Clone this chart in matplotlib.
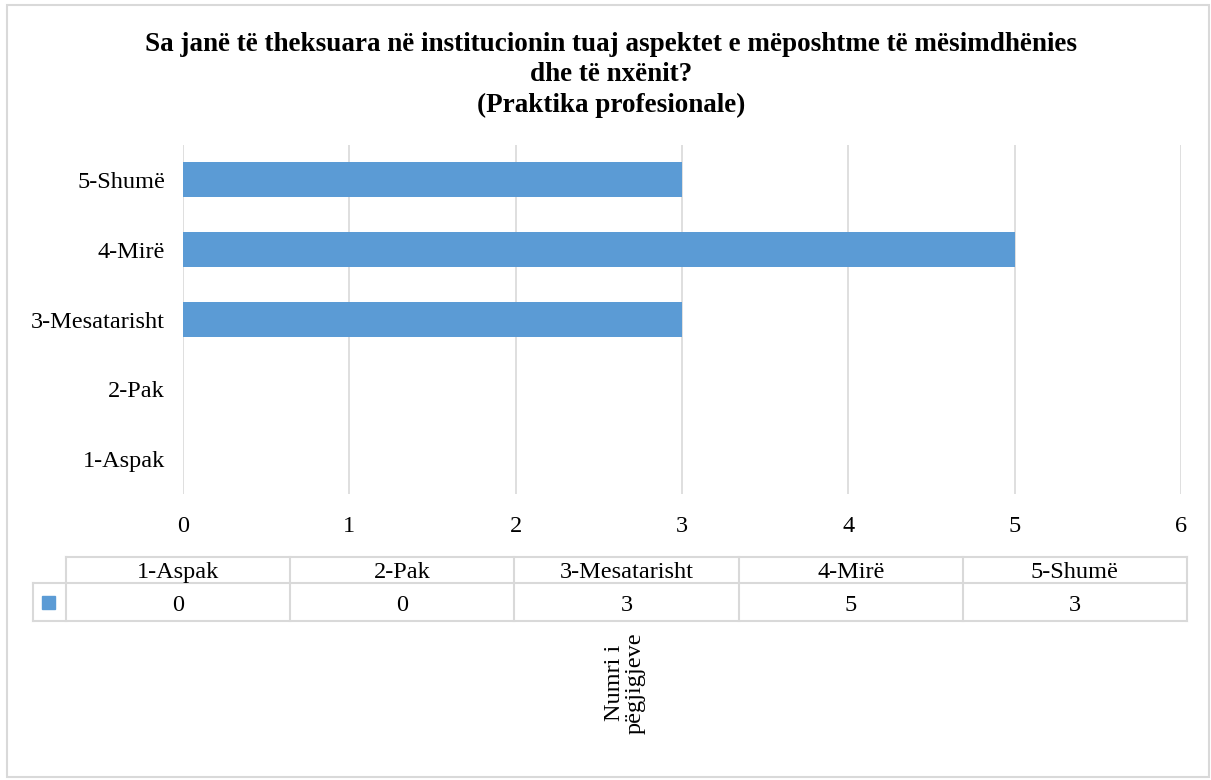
import matplotlib
matplotlib.use('Agg')
import matplotlib.pyplot as plt
from matplotlib.patches import Rectangle
from matplotlib.lines import Line2D

categories = ['1-Aspak', '2-Pak', '3-Mesatarisht', '4-Mirë', '5-Shumë']
values = [0, 0, 3, 5, 3]
x_ticks = [0, 1, 2, 3, 4, 5, 6]
title = ('Sa janë të theksuara në institucionin tuaj aspektet e mëposhtme të mësimdhënies\n'
         'dhe të nxënit?\n(Praktika profesionale)')
axis_title = 'Numri i\npëgjigjeve'

bar_color = '#5B9BD5'
grid_color = '#D9D9D9'
W, H = 1211, 780

plt.rcParams['font.family'] = ['Liberation Serif', 'DejaVu Serif']
plt.rcParams['font.size'] = 17.5

fig = plt.figure(figsize=(W / 100, H / 100), dpi=100)

# overlay in pixel coordinates for border, title, table
ov = fig.add_axes([0, 0, 1, 1])
ov.set_xlim(0, W)
ov.set_ylim(H, 0)
ov.axis('off')
ov.add_patch(Rectangle((7, 5), W - 9, H - 8, fill=False, edgecolor=grid_color, lw=1.5))

ov.text(611, 75, title, ha='center', va='center', fontsize=19.5,
        fontweight='bold', linespacing=1.28)

# bar chart
ax = fig.add_axes([183 / W, (H - 494) / H, (1181 - 183) / W, (494 - 145) / H])
ypos = list(range(len(categories)))
ax.barh(ypos, values, height=0.5, color=bar_color, zorder=3)
ax.set_xlim(0, 6)
ax.set_ylim(-0.5, len(categories) - 0.5)
ax.set_xticks(x_ticks)
ax.set_yticks(ypos)
ax.set_yticklabels(categories)
ax.tick_params(length=0)
ax.tick_params(axis='y', pad=13)
ax.tick_params(axis='x', pad=16)
ax.grid(axis='x', color=grid_color, lw=1.2, zorder=0)
for s in ax.spines.values():
    s.set_visible(False)

# data table under the axis
t_left, t_key, t_right = 33, 66, 1187
t_top, t_mid, t_bot = 557, 583, 621
ncol = len(categories)
cw = (t_right - t_key) / ncol
lw = 1.5
ov.add_line(Line2D([t_key, t_right], [t_top, t_top], color=grid_color, lw=lw))
ov.add_line(Line2D([t_left, t_right], [t_mid, t_mid], color=grid_color, lw=lw))
ov.add_line(Line2D([t_left, t_right], [t_bot, t_bot], color=grid_color, lw=lw))
ov.add_line(Line2D([t_left, t_left], [t_mid, t_bot], color=grid_color, lw=lw))
for i in range(ncol + 1):
    xx = t_key + i * cw
    ov.add_line(Line2D([xx, xx], [t_top, t_bot], color=grid_color, lw=lw))
for i, (c, v) in enumerate(zip(categories, values)):
    cx = t_key + (i + 0.5) * cw
    ov.text(cx, t_mid - 5, c, ha='center', va='baseline')
    ov.text(cx, t_bot - 10, str(v), ha='center', va='baseline')
ov.add_patch(Rectangle((42, 596), 13, 13, color=bar_color))

ov.text(625, 683, axis_title, ha='center', va='center', rotation=90,
        linespacing=1.0)

fig.savefig('out.png', dpi=100)
